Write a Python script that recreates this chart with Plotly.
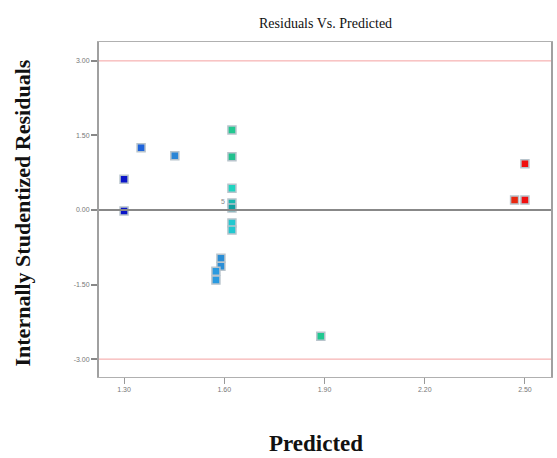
import plotly.graph_objects as go

predicted = [1.30, 1.30, 1.351, 1.452, 1.623, 1.623, 1.623, 1.623, 1.623, 1.623, 1.623,
             1.590, 1.590, 1.575, 1.575, 1.889, 2.50, 2.469, 2.50]
residuals = [0.62, -0.02, 1.25, 1.09, 1.61, 1.07, 0.44, 0.14, 0.04, -0.26, -0.40,
             -0.97, -1.13, -1.23, -1.41, -2.54, 0.93, 0.20, 0.20]
colors = ["#0a14c8", "#0a14c8", "#1e64dc", "#2a86d6", "#22c890", "#22c08e", "#20d4c0",
          "#18b8b0", "#10a0a0", "#20c8d0", "#20c8d0",
          "#2a8ed6", "#2a8ed6", "#2a9ae0", "#2a9ae0", "#20c890", "#f01010", "#e82810", "#f01010"]

x_ticks = [1.30, 1.60, 1.90, 2.20, 2.50]
x_tick_text = ["1.30", "1.60", "1.90", "2.20", "2.50"]
y_ticks = [3.00, 1.50, 0.00, -1.50, -3.00]
y_tick_text = ["3.00", "1.50", "0.00", "-1.50", "-3.00"]
limits = [3.0, -3.0]

x_range = [1.225, 2.578]
y_range = [-3.36, 3.38]

fig = go.Figure()

for lim in limits:
    fig.add_shape(type="line", xref="paper", x0=0, x1=1, yref="y", y0=lim, y1=lim,
                  line=dict(color="#f4a0a0", width=1))
fig.add_shape(type="line", xref="paper", x0=0, x1=1, yref="y", y0=0, y1=0,
              line=dict(color="#888888", width=2))

fig.add_trace(go.Scatter(
    x=predicted, y=residuals, mode="markers",
    marker=dict(symbol="square", size=8, color=colors,
                line=dict(color="#b8c4cc", width=1.5)),
    showlegend=False, hoverinfo="x+y"))

fig.add_annotation(x=1.607, y=0.17, text="5", showarrow=False, xanchor="right",
                   font=dict(size=7, color="#888888", family="Liberation Sans"))

fig.update_xaxes(range=x_range, tickvals=x_ticks, ticktext=x_tick_text,
                 showgrid=False, zeroline=False, showline=True, linecolor="#b0b0b0",
                 linewidth=1, mirror=True, ticks="outside", ticklen=6, tickcolor="#999999",
                 tickwidth=1, tickfont=dict(size=7, color="#777777", family="Liberation Sans"))
fig.update_yaxes(range=y_range, tickvals=y_ticks, ticktext=y_tick_text,
                 showgrid=False, zeroline=False, showline=True, linecolor="#a0a0a0",
                 linewidth=2, mirror=True, ticks="outside", ticklen=6, tickcolor="#888888",
                 tickwidth=2, tickfont=dict(size=7, color="#777777", family="Liberation Sans"))

fig.add_annotation(xref="paper", yref="paper", x=0.5, y=1, yshift=28, xanchor="center",
                   text="Residuals Vs. Predicted", showarrow=False,
                   font=dict(size=14, color="#111111", family="Liberation Serif"))
fig.add_annotation(xref="paper", yref="paper", x=0.5, y=0, yshift=-66, xshift=-9,
                   xanchor="center", yanchor="middle",
                   text="<b>Predicted</b>", showarrow=False,
                   font=dict(size=23, color="#111111", family="Liberation Serif"))
fig.add_annotation(xref="paper", yref="paper", x=0, xshift=-77, y=0.5, yshift=-4,
                   textangle=-90, xanchor="center", yanchor="middle",
                   text="<b>Internally Studentized Residuals</b>", showarrow=False,
                   font=dict(size=22, color="#111111", family="Liberation Serif"))

fig.update_layout(width=557, height=458, margin=dict(l=99, r=4, t=42, b=81),
                  plot_bgcolor="white", paper_bgcolor="white")

fig.write_html("out.html")
